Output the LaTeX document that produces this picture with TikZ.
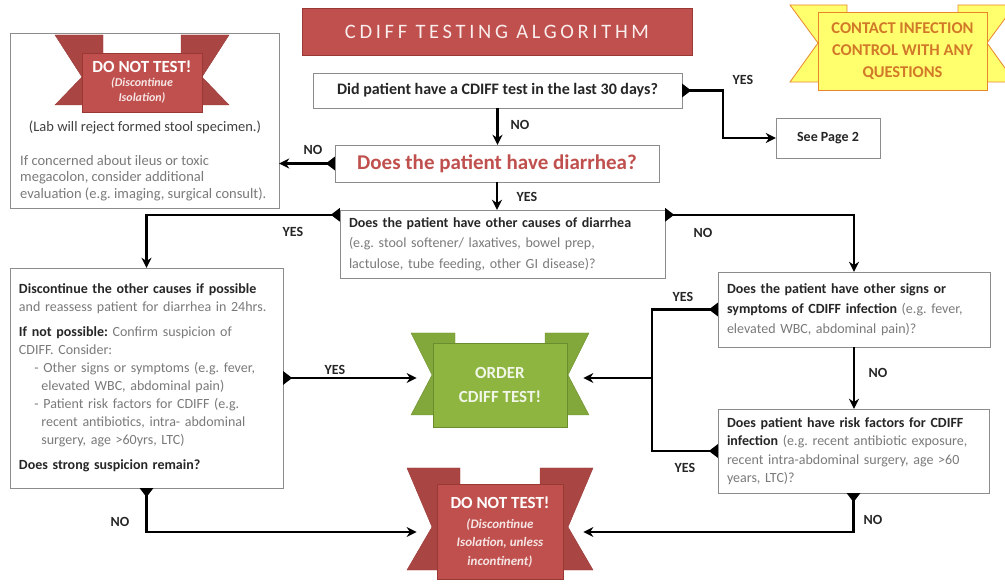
\documentclass[tikz,border=0pt]{standalone}
\usepackage{fontspec}
\setmainfont{Carlito}
\usetikzlibrary{arrows.meta,calc}

\definecolor{cdred}{HTML}{C0504D}
\definecolor{cdreddark}{HTML}{9A3836}
\definecolor{cdgreen}{HTML}{8DB53F}
\definecolor{cdgreendark}{HTML}{6A8C2E}
\definecolor{cdyellow}{HTML}{FFFF6E}
\definecolor{cdorange}{HTML}{E8862C}
\definecolor{inkdark}{HTML}{262626}
\definecolor{inkgrey}{HTML}{7A7A7A}

\newcommand\grey[1]{\textcolor{inkgrey}{#1}}
\frenchspacing

% swallow-tail ends behind a banner: outer, notch and fold half widths, top, bottom, notch height
\tikzset{
  pics/flaps/.style n args={6}{code={
    \filldraw (-#1,#4) -- (-#3,#4) -- (-#3,#5) -- (-#1,#5) -- (-#2,#6) -- cycle;
    \filldraw (#1,#4) -- (#3,#4) -- (#3,#5) -- (#1,#5) -- (#2,#6) -- cycle;
  }},
}

\begin{document}
\begin{tikzpicture}[x=1pt, y=-1pt,
  box/.style={draw=black!45, fill=white, inner xsep=10pt, inner ysep=3pt, align=left, text=inkdark},
  banner/.style={draw, line width=0.8pt, align=center, text=white, inner sep=2pt},
  flow/.style={line width=2.4pt, arrows={-Stealth[length=10pt,width=10pt]}},
  tailflow/.style={line width=2.4pt, arrows={Triangle[reversed,length=9pt,width=13pt]-Stealth[length=10pt,width=10pt]}},
  lbl/.style={font=\fontsize{14}{16}\selectfont\bfseries, text=inkdark, inner sep=1pt},
]
\useasboundingbox (0,0) rectangle (1005,585);

\node[fill=cdred, draw=cdreddark, minimum width=390, minimum height=47, text=white!90!cdred,
  font=\fontsize{20.5}{22}\selectfont\addfontfeatures{LetterSpace=18}] (title) at (497,31.5) {CDIFF TESTING ALGORITHM};

% contact banner
\pic[fill=cdyellow, draw=cdorange, line width=0.8pt] at (902.5,51) {flaps={112.5}{84.5}{55.5}{-46}{31}{-8}};
\node[banner, fill=cdyellow, draw=cdorange, text=cdorange!90!black, minimum width=169, minimum height=78,
  font=\fontsize{16.5}{22}\selectfont\bfseries] (contact) at (902.5,51) {CONTACT INFECTION\\CONTROL WITH ANY\\QUESTIONS};

% questions
\node[box, minimum width=369, minimum height=35, align=center, font=\fontsize{16}{18}\selectfont\bfseries] (q30) at (497.5,90.5)
  {Did patient have a CDIFF test in the last 30 days?};
\node[box, minimum width=104, minimum height=40, align=center, font=\fontsize{14}{16}\selectfont\bfseries] (page2) at (828,138) {See Page 2};
\node[box, minimum width=324, minimum height=37, align=center, text=cdred, font=\fontsize{21}{23}\selectfont\bfseries] (diar) at (497,163.5)
  {Does the patient have diarrhea?};
\node[box, minimum width=325, minimum height=68, text width=307, inner xsep=9pt, font=\fontsize{14}{20.5}\selectfont] (causes) at (502.5,244)
  {\textbf{Does the patient have other causes of diarrhea}\\
   \grey{(e.g. stool softener/ laxatives, bowel prep,}\\
   \grey{lactulose, tube feeding, other GI disease)?}};

% no diarrhea
\node[box, minimum width=269, minimum height=175] (stopbox) at (144.5,120.5) {};
\pic[fill=cdred!88!black, draw=cdreddark] at (142,82.5) {flaps={87}{60}{39}{-47.5}{22.5}{-5.5}};
\node[banner, fill=cdred, draw=cdreddark, minimum width=120, minimum height=59, text=white!85!cdred,
  font=\fontsize{12}{15}\selectfont\bfseries\itshape] (stop1) at (142,82.5)
  {{\fontsize{17}{18}\selectfont\upshape\color{white}DO NOT TEST!}\\[-1pt](Discontinue\\Isolation)};
\node[text=black!75, font=\fontsize{14.5}{16}\selectfont, inner sep=1pt] (labnote) at (145,127) {(Lab will reject formed stool specimen.)};
\node[anchor=north west, text=inkgrey, align=left, font=\fontsize{14.5}{16.5}\selectfont, inner sep=0pt] (ileus) at (20,155)
  {If concerned about ileus or toxic\\megacolon, consider additional\\evaluation (e.g. imaging, surgical consult).};

% other causes present
\node[box, minimum width=273, minimum height=220, text width=255, inner xsep=9pt, font=\fontsize{14}{18}\selectfont] (reassess) at (146.5,378)
  {\textbf{Discontinue the other causes if possible}\\
   \grey{and reassess patient for diarrhea in 24hrs.}\\[7pt]
   \textbf{If not possible:} \grey{Confirm suspicion of}\\
   \grey{CDIFF. Consider:}\\
   \grey{\hspace*{1.1em}- Other signs or symptoms (e.g. fever,}\\
   \grey{\hspace*{1.6em}elevated WBC, abdominal pain)}\\
   \grey{\hspace*{1.1em}- Patient risk factors for CDIFF (e.g.}\\
   \grey{\hspace*{1.6em}recent antibiotics, intra- abdominal}\\
   \grey{\hspace*{1.6em}surgery, age >60yrs, LTC)}\\[7pt]
   \textbf{Does strong suspicion remain?}};

% no other causes
\node[box, minimum width=272, minimum height=75, text width=254, inner xsep=9pt, font=\fontsize{14}{20}\selectfont] (signs) at (854,309.5)
  {\textbf{Does the patient have other signs or}\\
   \textbf{symptoms of CDIFF infection} \grey{(e.g. fever,}\\
   \grey{elevated WBC, abdominal pain)?}};
\node[box, minimum width=271, minimum height=84, text width=253, inner xsep=9pt, font=\fontsize{14}{18.5}\selectfont] (risk) at (853.5,451)
  {\textbf{Does patient have risk factors for CDIFF}\\
   \textbf{infection} \grey{(e.g. recent antibiotic exposure,}\\
   \grey{recent intra-abdominal surgery, age >60}\\
   \grey{years, LTC)?}};

% outcomes
\pic[fill=cdgreen!92!black, draw=cdgreendark] at (500,385) {flaps={89}{68}{45}{-52}{30}{-10}};
\node[banner, fill=cdgreen, draw=cdgreendark, text=white!88!cdgreen, minimum width=134, minimum height=84,
  font=\fontsize{17}{24}\selectfont\bfseries] (order) at (500,385) {ORDER\\CDIFF TEST!};
\pic[fill=cdred!88!black, draw=cdreddark] at (500,532) {flaps={93}{68}{40}{-64}{38}{-5}};
\node[banner, fill=cdred, draw=cdreddark, minimum width=126, minimum height=95, text=white!85!cdred,
  font=\fontsize{13}{18.5}\selectfont\bfseries\itshape] (dnt) at (500,532)
  {{\fontsize{17}{18}\selectfont\upshape\color{white}DO NOT TEST!}\\[1pt](Discontinue\\Isolation, unless\\incontinent)};

% connectors
\draw[tailflow] (q30.east) -- ++(41,0) |- (page2.west);
\draw[flow] (q30.south) -- (q30.south |- diar.north);
\draw[tailflow] (diar.west) -- (diar.west -| stopbox.east);
\draw[flow] (diar.south) -- (diar.south |- causes.north);
\draw[tailflow] ($(causes.north west)+(0,5)$) -| (reassess.north);
\draw[tailflow] ($(causes.north east)+(0,5)$) -| (signs.north);
\draw[tailflow] (reassess.east) -- ([xshift=-16pt]reassess.east -| order.west);
\draw[line width=2.4pt, arrows={Triangle[reversed,length=9pt,width=13pt]-Triangle[reversed,length=9pt,width=13pt]}]
  (signs.west) -- ++(-66,0) coordinate (split) |- (risk.west);
\draw[flow] (split |- reassess.east) -- ([xshift=16pt]reassess.east -| order.east);
\draw[flow] (signs.south) -- (signs.south |- risk.north);
\draw[tailflow] (reassess.south) |- ([xshift=-20pt]dnt.west);
\draw[tailflow] (risk.south) |- ([xshift=20pt]dnt.east);

% branch labels
\node[lbl] (yes1) at (743,80) {YES};
\node[lbl] (no1) at (520,125) {NO};
\node[lbl] (no2) at (313,150) {NO};
\node[lbl] (yes2) at (527,197) {YES};
\node[lbl] (yes3) at (293,232) {YES};
\node[lbl] (no3) at (703,233) {NO};
\node[lbl] (yes4) at (335,370) {YES};
\node[lbl] (yes5) at (683,297) {YES};
\node[lbl] (yes6) at (685,468) {YES};
\node[lbl] (no4) at (878,373) {NO};
\node[lbl] (no5) at (873,520) {NO};
\node[lbl] (no6) at (120,522) {NO};
\end{tikzpicture}
\end{document}
